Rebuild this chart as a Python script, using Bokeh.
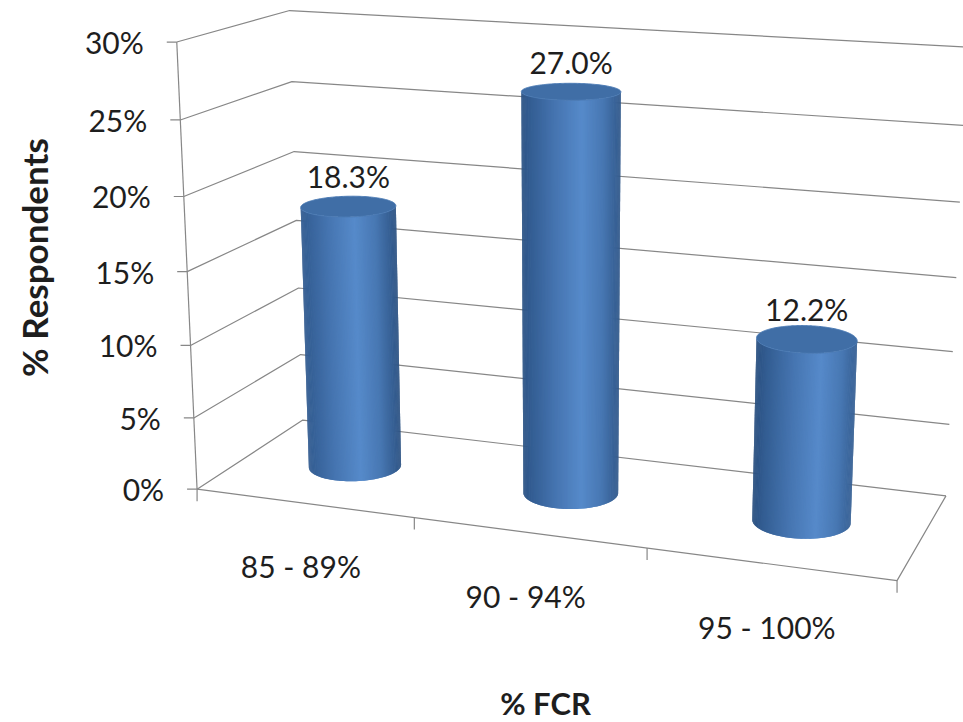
import numpy as np
from bokeh.plotting import figure
from bokeh.models import Range1d, Label
from bokeh.embed import file_html
from bokeh.resources import INLINE
from bokeh.core.properties import value

# ---- data -------------------------------------------------------------
categories = ["85 - 89%", "90 - 94%", "95 - 100%"]
respondents_pct = [18.3, 27.0, 12.2]
value_ticks = [0, 5, 10, 15, 20, 25, 30]
value_tick_labels = ["0%", "5%", "10%", "15%", "20%", "25%", "30%"]
y_title = "% Respondents"
x_title = "% FCR"

# ---- 3-D view -----------------------------------------------------------
# Perspective camera: (category position, percent, depth) -> page pixels.
CAMERA = np.array([
    [203.4841, -0.9851128, 134.6639, 196.5758],
    [11.17429, -14.97849, -28.87698, 488.7027],
    [-0.03328452, -0.001748206, 0.0958536, 1.0],
])
N_CAT = len(categories)
Y_MAX = value_ticks[-1]
RADIUS = 0.2          # cylinder radius in category widths
DEPTH_MID = 0.5       # cylinders stand in the middle of the floor

FONT = "Lato"
TEXT_COLOR = "#1e1e1e"
GRID_COLOR = "#878787"


def project(x, y, z):
    x, y, z = np.broadcast_arrays(np.asarray(x, float), np.asarray(y, float), np.asarray(z, float))
    pts = np.vstack([x.ravel(), y.ravel(), z.ravel(), np.ones(x.size)])
    h = CAMERA @ pts
    return h[0] / h[2], h[1] / h[2]


def hex_rgb(c):
    return np.array([int(c[i:i + 2], 16) for i in (1, 3, 5)], float)


def blend(stops, t):
    t = float(np.clip(t, 0, 1))
    for (t0, c0), (t1, c1) in zip(stops[:-1], stops[1:]):
        if t0 <= t <= t1:
            f = (t - t0) / (t1 - t0) if t1 > t0 else 0
            c = np.round(hex_rgb(c0) + (hex_rgb(c1) - hex_rgb(c0)) * f).astype(int)
            return "#%02x%02x%02x" % tuple(c)
    return stops[-1][1]


def signed_area(qx, qy):
    return 0.5 * sum(qx[j] * qy[(j + 1) % 4] - qx[(j + 1) % 4] * qy[j] for j in range(4))


BODY_STOPS = [
    (0.00, "#2a5080"), (0.10, "#335d92"), (0.35, "#4675b1"),
    (0.60, "#568aca"), (0.80, "#4878b3"), (0.94, "#365f93"), (1.00, "#2d5383"),
]
TOP_COLOR = "#406ea6"

p = figure(width=963, height=722, x_range=Range1d(0, 963), y_range=Range1d(722, 0),
           output_backend="svg", toolbar_location=None, min_border=0,
           background_fill_color="white", border_fill_color="white")
p.axis.visible = False
p.grid.visible = False
p.outline_line_color = None

# ---- walls, floor and axis lines -----------------------------------------
for v in value_ticks:
    xs, ys = project([0, 0, N_CAT], [v, v, v], [0, 1, 1])
    p.line(xs, ys, line_color=GRID_COLOR, line_width=1.2)

xs, ys = project([0, 0], [0, Y_MAX], [0, 0])
p.line(xs, ys, line_color=GRID_COLOR, line_width=1.2)
xs, ys = project([0, N_CAT, N_CAT], [0, 0, 0], [0, 0, 1])
p.line(xs, ys, line_color=GRID_COLOR, line_width=1.2)

# value-axis ticks and labels
tu, tv = project(np.zeros(len(value_ticks)), value_ticks, np.zeros(len(value_ticks)))
p.segment(tu - 10, tv, tu, tv, line_color=GRID_COLOR, line_width=1.2)
p.text(tu - 33, tv, text=value_tick_labels, text_align="right", text_baseline="middle",
       text_font=value(FONT), text_font_size="30px", text_color=TEXT_COLOR)

# category-axis ticks
cu, cv = project(np.arange(N_CAT + 1), np.zeros(N_CAT + 1), np.zeros(N_CAT + 1))
p.segment(cu, cv, cu, cv + 12, line_color=GRID_COLOR, line_width=1.2)

# category labels
mu, mv = project(np.arange(N_CAT) + 0.5, np.zeros(N_CAT), np.zeros(N_CAT))
p.text(mu - 3, mv + 63, text=categories, text_align="center", text_baseline="middle",
       text_font=value(FONT), text_font_size="30px", text_color=TEXT_COLOR)

# ---- cylinders -----------------------------------------------------------
N_SEG = 240
theta = np.linspace(0, 2 * np.pi, N_SEG + 1)[:-1]
for i, val in enumerate(respondents_pct):
    xc = i + 0.5
    cx = xc + RADIUS * np.cos(theta)
    cz = DEPTH_MID + RADIUS * np.sin(theta)
    bu, bv = project(cx, np.zeros_like(theta), cz)
    su, sv = project(cx, np.full_like(theta, val), cz)
    umin = min(bu.min(), su.min())
    umax = max(bu.max(), su.max())

    # which side strips face the viewer (same winding as the nearest strip)
    def quad(a, b):
        return [bu[a], bu[b], su[b], su[a]], [bv[a], bv[b], sv[b], sv[a]]

    areas = np.array([signed_area(*quad(k, (k + 1) % N_SEG)) for k in range(N_SEG)])
    k_front = int(np.argmin(np.abs(theta - 1.5 * np.pi)))
    visible = np.sign(areas) == np.sign(areas[k_front])
    start = next(k for k in range(N_SEG) if visible[k] and not visible[k - 1])
    run = []
    k = start
    while visible[k % N_SEG] and len(run) < N_SEG:
        run.append(k % N_SEG)
        k += 1
    pts_idx = run + [(run[-1] + 1) % N_SEG]

    # overlapping strips drawn along the arc, so every seam is covered
    fx, fy, fc = [], [], []
    for j in range(len(pts_idx) - 1):
        a = pts_idx[j]
        b = pts_idx[min(j + 2, len(pts_idx) - 1)]
        qx, qy = quad(a, b)
        um = 0.5 * (bu[a] + bu[pts_idx[j + 1]])
        fx.append(qx)
        fy.append(qy)
        fc.append(blend(BODY_STOPS, (um - umin) / (umax - umin)))
    p.patches(fx, fy, fill_color=fc, line_color=None)

    # top face
    p.patch(su, sv, fill_color=TOP_COLOR, line_color="#4b7bb5", line_width=1.0)

# value labels above the cylinders
lu, lv = project(np.arange(N_CAT) + 0.5, respondents_pct, np.full(N_CAT, DEPTH_MID))
p.text(lu, lv - 30, text=["%.1f%%" % v for v in respondents_pct], text_align="center",
       text_baseline="middle", text_font=value(FONT), text_font_size="30px",
       text_color=TEXT_COLOR)

# ---- axis titles ----------------------------------------------------------
p.add_layout(Label(x=33, y=257, text=y_title, angle=np.pi / 2, text_align="center",
                   text_baseline="middle", text_font=FONT, text_font_style="bold",
                   text_font_size="35px", text_color=TEXT_COLOR))
p.add_layout(Label(x=545, y=702, text=x_title, text_align="center", text_baseline="middle",
                   text_font=FONT, text_font_style="bold", text_font_size="31px",
                   text_color=TEXT_COLOR))

open("out.html", "w").write(file_html(p, INLINE))
